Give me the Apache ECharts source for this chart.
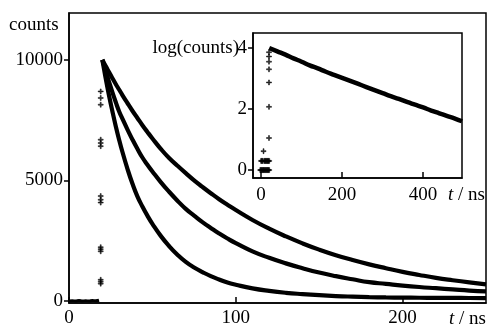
<!DOCTYPE html>
<html><head><meta charset="utf-8">
<script src="https://cdn.jsdelivr.net/npm/echarts@6/dist/echarts.min.js"></script>
<style>html,body{margin:0;padding:0;background:#fff}#c{width:487px;height:328px}</style>
</head><body><div id="c"></div>
<script>
// ---- main plot data (t in ns, counts) ----
const tDecay = [20,21,22,24,26,28,30,32,35,38,41,44,47,50,55,60,65,70,75,80,85,90,95,100,110,120,130,140,150,160,170,180,190,200,210,220,230,240,250];
const countsA = [10000,9870,9740,9490,9240,9000,8770,8540,8210,7890,7590,7290,7010,6740,6310,5930,5610,5300,5000,4730,4470,4220,3990,3770,3360,3000,2680,2390,2130,1900,1700,1520,1360,1210,1080,960,860,770,690];
const countsB = [10000,9760,9530,9090,8660,8250,7870,7560,7120,6700,6310,5950,5650,5370,4930,4530,4160,3820,3540,3270,3030,2800,2590,2400,2060,1790,1560,1360,1180,1030,900,780,710,640,580,530,480,430,395];
const countsC = [10000,9610,9230,8520,7870,7260,6700,6190,5490,4870,4340,3920,3540,3200,2700,2280,1920,1620,1390,1200,1030,890,765,675,526,420,340,285,240,205,180,160,148,140,135,130,127,125,122];
const tBase = [0,2,4,6,8,10,12,14,16,18];
const baseCounts = [0,10,0,20,0,10,0,20,10,30];
const tRise = [19,19,19,19,19];
const riseA = [880,2230,4350,6690,8690];
const riseB = [800,2150,4200,6550,8420];
const riseC = [720,2060,4080,6420,8140];
const mainXTicks = [0,100,200];
const mainYTicks = [0,5000,10000];
// ---- inset data (t in ns, log10 counts) ----
const tLog = [20,40,60,80,100,120,140,160,180,200,220,240,260,280,300,320,340,360,380,400,420,440,460,480,496];
const logCounts = [4.00,3.89,3.78,3.66,3.55,3.43,3.33,3.22,3.12,3.02,2.92,2.82,2.72,2.62,2.52,2.42,2.33,2.23,2.14,2.05,1.95,1.86,1.77,1.68,1.60];
const tLogBase = [-2,0,2,4,6,8,10,12,14,16,18,20,0,2,4,8,10,12,14,16,18,20];
const logBase = [0,0,0,0,0,0,0,0,0,0,0,0,0.3,0.3,0.3,0.3,0.3,0.3,0.3,0.3,0.3,0.3];
const tLogRise = [6,19.5,19.5,19.5,19.5,19.5,19.5,19.5];
const logRise = [0.62,1.05,2.07,2.87,3.30,3.55,3.72,3.86];
const insetXTicks = [0,200,400];
const insetYTicks = [0,2,4];

const zip = (xs, ys) => xs.map((x, i) => [x, ys[i]]);
const FONT = 'Liberation Serif';
const lbl = {color:'#000', fontFamily:FONT, fontSize:19, formatter: v => String(v)};
const axLine = {show:true, onZero:false, lineStyle:{color:'#000', width:1.5}};
const tickStyle = {color:'#000', width:1.5};
const PLUS = 'path://M2,0H3V2H5V3H3V5H2V3H0V2H2Z';

const chart = echarts.init(document.getElementById('c'), null, {renderer:'canvas'});
const lineS = (xi, data, w) => ({type:'line', xAxisIndex:xi, yAxisIndex:xi, data, symbol:'none', smooth:true,
  lineStyle:{color:'#000', width:w}, silent:true, z:3});
const dotS = (xi, data, s) => ({type:'scatter', xAxisIndex:xi, yAxisIndex:xi, data, symbol:PLUS, symbolSize:s,
  itemStyle:{color:'#000', borderColor:'#000', borderWidth:0.6}, silent:true, z:3});

chart.setOption({
  animation:false,
  backgroundColor:'#fff',
  grid:[
    {left:69, top:13, width:417, height:291, show:true, borderColor:'#000', borderWidth:1.5, backgroundColor:'#fff'},
    {left:253, top:33, width:209, height:145, show:true, borderColor:'#000', borderWidth:1.5, backgroundColor:'#fff'}
  ],
  xAxis:[
    {gridIndex:0, type:'value', min:0, max:250, axisLine:axLine,
     axisTick:{show:true, inside:true, length:6, lineStyle:tickStyle, customValues:mainXTicks},
     axisLabel:{...lbl, margin:6, customValues:mainXTicks}, splitLine:{show:false}},
    {gridIndex:1, type:'value', min:-20, max:496, axisLine:axLine,
     axisTick:{show:true, inside:true, length:6, lineStyle:tickStyle, customValues:insetXTicks},
     axisLabel:{...lbl, margin:8, customValues:insetXTicks}, splitLine:{show:false}}
  ],
  yAxis:[
    {gridIndex:0, type:'value', min:-83, max:11942, axisLine:axLine,
     axisTick:{show:true, inside:false, length:5, lineStyle:tickStyle, customValues:mainYTicks},
     axisLabel:{...lbl, margin:6, customValues:mainYTicks}, splitLine:{show:false}},
    {gridIndex:1, type:'value', min:-0.26, max:4.49, axisLine:axLine,
     axisTick:{show:true, inside:false, length:5, lineStyle:tickStyle, customValues:insetYTicks},
     axisLabel:{...lbl, margin:6, customValues:insetYTicks}, splitLine:{show:false}}
  ],
  series:[
    lineS(0, zip(tDecay, countsA), 4.2),
    lineS(0, zip(tDecay, countsB), 4.2),
    lineS(0, zip(tDecay, countsC), 4.2),
    lineS(0, zip(tBase, baseCounts), 3),
    dotS(0, zip(tRise, riseA), 5),
    dotS(0, zip(tRise, riseB), 5),
    dotS(0, zip(tRise, riseC), 5),
    lineS(1, zip(tLog, logCounts), 4.5),
    dotS(1, zip(tLogBase, logBase), 5),
    dotS(1, zip(tLogRise, logRise), 5)
  ],
  graphic:[
    {type:'text', x:9, y:25, style:{text:'counts', fontFamily:FONT, fontSize:19, fill:'#000', verticalAlign:'middle'}},
    {type:'text', x:239, y:48, style:{text:'log(counts)', fontFamily:FONT, fontSize:19, fill:'#000', align:'right', verticalAlign:'middle'}},
    {type:'text', x:486, y:319, style:{text:'{i|t} / ns', fontFamily:FONT, fontSize:19, fill:'#000', align:'right', verticalAlign:'middle',
      rich:{i:{fontStyle:'italic', fontFamily:FONT, fontSize:19, fill:'#000'}}}},
    {type:'text', x:485, y:195, style:{text:'{i|t} / ns', fontFamily:FONT, fontSize:19, fill:'#000', align:'right', verticalAlign:'middle',
      rich:{i:{fontStyle:'italic', fontFamily:FONT, fontSize:19, fill:'#000'}}}}
  ]
});
</script></body></html>
